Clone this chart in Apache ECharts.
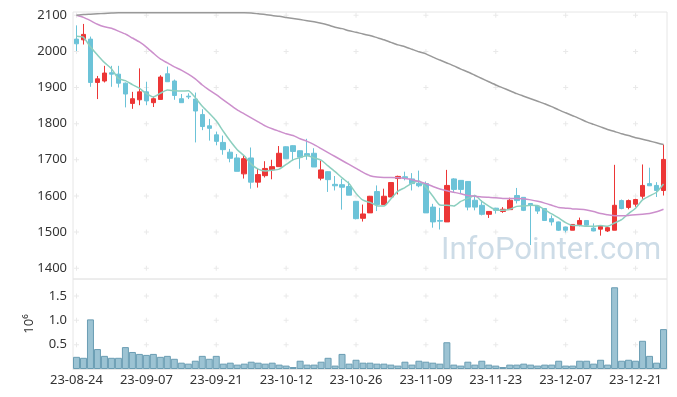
<!DOCTYPE html>
<html>
<head>
<meta charset="utf-8">
<script src="https://cdn.jsdelivr.net/npm/echarts@6/dist/echarts.min.js"></script>
<style>html,body{margin:0;padding:0;background:#fff}#c{width:677px;height:397px}</style>
</head>
<body>
<div id="c"></div>
<script>
const dates = ["23-08-24","23-08-25","23-08-28","23-08-29","23-08-30","23-08-31",
"23-09-01","23-09-04","23-09-05","23-09-06","23-09-07","23-09-08","23-09-11","23-09-12","23-09-13","23-09-14","23-09-15","23-09-18","23-09-19","23-09-20","23-09-21","23-09-22","23-09-25","23-09-26","23-09-27",
"23-10-04","23-10-05","23-10-06","23-10-10","23-10-11","23-10-12","23-10-13","23-10-16","23-10-17","23-10-18","23-10-19","23-10-20","23-10-23","23-10-24","23-10-25","23-10-26","23-10-27","23-10-30","23-10-31",
"23-11-01","23-11-02","23-11-03","23-11-06","23-11-07","23-11-08","23-11-09","23-11-10","23-11-13","23-11-14","23-11-15","23-11-16","23-11-17","23-11-20","23-11-21","23-11-22","23-11-23","23-11-24","23-11-27","23-11-28","23-11-29","23-11-30",
"23-12-01","23-12-04","23-12-05","23-12-06","23-12-07","23-12-08","23-12-11","23-12-12","23-12-13","23-12-14","23-12-15","23-12-18","23-12-19","23-12-20","23-12-21","23-12-22","23-12-26","23-12-27","23-12-28"];

const opens  = [2034,2032,2034,1914,1918,1941,1937,1912,1856,1866,1888,1858,1867,1938,1918,1869,1876,1868,1825,1794,1769,1748,1721,1705,1661,1705,1638,1656,1672,1681,1736,1739,1725,1717,1718,1649,1667,1632,1631,1626,1585,1538,1553,1612,1576,1597,1648,1653,1647,1635,1634,1569,1532,1528,1647,1643,1640,1588,1574,1549,1566,1557,1562,1601,1596,1579,1572,1565,1537,1528,1514,1505,1521,1532,1511,1508,1503,1505,1587,1568,1577,1599,1634,1629,1615];
const closes = [2021,2047,1914,1924,1940,1937,1912,1882,1869,1888,1863,1869,1929,1916,1878,1858,1874,1835,1792,1787,1751,1728,1704,1668,1703,1638,1659,1676,1681,1718,1703,1723,1707,1711,1680,1672,1645,1628,1624,1602,1537,1550,1599,1576,1599,1637,1654,1650,1634,1628,1553,1528,1530,1629,1618,1618,1569,1569,1549,1557,1560,1563,1588,1587,1560,1574,1558,1532,1528,1505,1505,1521,1532,1519,1503,1516,1512,1574,1565,1587,1590,1629,1628,1615,1701];
const lows   = [2001,2019,1902,1868,1914,1902,1900,1845,1841,1851,1851,1846,1867,1916,1866,1858,1868,1748,1782,1753,1740,1714,1693,1668,1648,1620,1623,1651,1646,1681,1703,1698,1675,1700,1680,1643,1611,1615,1562,1602,1535,1529,1553,1558,1576,1597,1604,1643,1615,1624,1553,1512,1507,1528,1611,1608,1560,1560,1546,1539,1551,1553,1562,1579,1558,1464,1550,1532,1518,1503,1499,1505,1516,1518,1502,1490,1500,1505,1563,1563,1570,1592,1628,1597,1601];
const highs  = [2072,2076,2041,1932,1960,1960,1960,1914,1888,1953,1916,1875,1934,1958,1922,1882,1884,1886,1840,1813,1778,1767,1730,1716,1712,1734,1675,1696,1700,1738,1737,1740,1726,1758,1732,1698,1668,1655,1647,1640,1586,1576,1600,1629,1620,1638,1656,1667,1663,1670,1640,1578,1567,1672,1649,1644,1641,1603,1588,1558,1567,1569,1595,1622,1597,1580,1575,1566,1546,1529,1515,1522,1540,1533,1524,1517,1516,1686,1590,1590,1592,1687,1678,1638,1742];

const ma5   = [2042,2039,2012,1990,1969,1952,1925,1919,1908,1898,1883,1874,1884,1893,1891,1890,1891,1872,1848,1829,1808,1779,1752,1728,1711,1688,1674,1669,1671,1674,1687,1700,1706,1712,1705,1699,1683,1667,1650,1634,1607,1588,1582,1573,1572,1592,1613,1623,1635,1641,1624,1599,1575,1574,1572,1585,1593,1601,1585,1572,1561,1560,1563,1571,1572,1574,1573,1562,1550,1539,1526,1518,1518,1516,1516,1518,1516,1525,1534,1551,1566,1589,1600,1610,1633];
const ma20  = [2100,2094,2085,2075,2068,2064,2056,2048,2037,2026,2012,1995,1979,1968,1957,1948,1937,1924,1907,1893,1880,1866,1852,1838,1827,1816,1805,1794,1786,1779,1772,1767,1758,1751,1742,1731,1720,1709,1698,1687,1676,1665,1656,1652,1651,1651,1650,1648,1645,1640,1634,1626,1619,1614,1610,1606,1601,1599,1597,1596,1595,1593,1593,1593,1592,1589,1585,1580,1574,1568,1566,1564,1563,1561,1557,1551,1548,1545,1545,1546,1548,1549,1551,1556,1563];
const ma120 = [2100,2102,2103,2104,2105,2106,2107,2107,2107,2107,2107,2107,2107,2107,2107,2107,2107,2107,2107,2107,2107,2107,2107,2107,2107,2106,2104,2102,2099,2097,2094,2091,2088,2085,2082,2078,2073,2067,2063,2057,2053,2048,2044,2038,2032,2025,2018,2013,2006,1999,1993,1984,1976,1968,1960,1951,1943,1934,1925,1916,1907,1899,1891,1883,1876,1869,1862,1855,1847,1838,1830,1822,1814,1805,1798,1791,1784,1778,1772,1767,1761,1757,1752,1747,1742];

const volumes = [0.25,0.23,1.02,0.41,0.27,0.23,0.23,0.45,0.35,0.31,
0.29,0.31,0.25,0.27,0.21,0.13,0.11,0.17,0.27,0.21,
0.27,0.11,0.13,0.09,0.11,0.15,0.13,0.11,0.13,0.09,
0.07,0.04,0.17,0.09,0.09,0.15,0.23,0.07,0.31,0.11,
0.19,0.13,0.13,0.11,0.11,0.09,0.07,0.15,0.09,0.17,
0.15,0.13,0.11,0.55,0.09,0.07,0.15,0.09,0.17,0.09,
0.07,0.04,0.09,0.09,0.11,0.09,0.07,0.09,0.09,0.17,
0.07,0.07,0.17,0.17,0.11,0.19,0.09,1.68,0.17,0.19,
0.17,0.58,0.27,0.13,0.82];

const priceTicks = [1400,1500,1600,1700,1800,1900,2000,2100];
const volTicks = [0.5,1.0,1.5];
const gridCols = [0,10,20,30,40,50,60,70,80];

const candleData = opens.map((o, i) => [o, closes[i], lows[i], highs[i]]);
const plusMain = [];
gridCols.forEach(c => priceTicks.forEach(v => plusMain.push([c, v])));
const plusVol = [];
gridCols.forEach(c => volTicks.forEach(v => plusVol.push([c, v])));

const PLUS = 'path://M2,0h1v2h2v1h-2v2h-1v-2h-2v-1h2z';
const chart = echarts.init(document.getElementById('c'), null, {renderer: 'canvas'});
const lab = {color: '#333', fontSize: 13, fontFamily: 'Noto Sans'};
chart.setOption({
  animation: false,
  backgroundColor: '#fff',
  grid: [
    {left: 73, right: 10, top: 12, height: 267, show: true, borderColor: '#e6e6e6', borderWidth: 1, backgroundColor: 'transparent'},
    {left: 73, right: 10, top: 279, height: 90, show: true, borderColor: '#e6e6e6', borderWidth: 1, backgroundColor: 'transparent'}
  ],
  xAxis: [
    {type: 'category', gridIndex: 0, data: dates, boundaryGap: true,
     axisLine: {show: false}, axisTick: {show: false}, axisLabel: {show: false}, splitLine: {show: false}},
    {type: 'category', gridIndex: 1, data: dates, boundaryGap: true,
     axisLine: {show: true, lineStyle: {color: '#e6e6e6'}}, axisTick: {show: false},
     axisLabel: Object.assign({interval: 9, margin: 5}, lab), splitLine: {show: false}}
  ],
  yAxis: [
    {type: 'value', gridIndex: 0, min: 1370, max: 2109, scale: true,
     axisLine: {show: false}, axisTick: {show: false}, splitLine: {show: false},
     axisLabel: Object.assign({customValues: priceTicks, margin: 6, formatter: v => String(v)}, lab)},
    {type: 'value', gridIndex: 1, min: 0, max: 1.85,
     axisLine: {show: false}, axisTick: {show: false}, splitLine: {show: false},
     axisLabel: Object.assign({customValues: volTicks, margin: 6, formatter: v => v.toFixed(1)}, lab),
     name: '10⁶', nameLocation: 'middle', nameRotate: 90, nameGap: 37,
     nameTextStyle: {color: '#333', fontSize: 13, fontFamily: 'Noto Sans'}}
  ],
  graphic: [
    {type: 'text', left: 441, top: 236, z: 0, silent: true,
     style: {text: 'InfoPointer.com', fill: '#cddce7', font: '31px Roboto'}}
  ],
  series: [
    {type: 'scatter', xAxisIndex: 0, yAxisIndex: 0, data: plusMain, symbol: PLUS, symbolSize: 5,
     itemStyle: {color: '#e4e4e4'}, silent: true, z: 1},
    {type: 'scatter', xAxisIndex: 1, yAxisIndex: 1, data: plusVol, symbol: PLUS, symbolSize: 5,
     itemStyle: {color: '#e4e4e4'}, silent: true, z: 1},
    {type: 'candlestick', xAxisIndex: 0, yAxisIndex: 0, data: candleData, barWidth: 5, z: 2,
     itemStyle: {color: '#ec3636', color0: '#6cc3d8', borderColor: '#ec3636', borderColor0: '#6cc3d8', borderWidth: 1}},
    {type: 'line', xAxisIndex: 0, yAxisIndex: 0, data: ma5, symbol: 'none', smooth: 0.2, z: 3,
     lineStyle: {color: '#8ccfbf', width: 1.5}},
    {type: 'line', xAxisIndex: 0, yAxisIndex: 0, data: ma20, symbol: 'none', smooth: 0.2, z: 3,
     lineStyle: {color: '#cc8fcc', width: 1.5}},
    {type: 'line', xAxisIndex: 0, yAxisIndex: 0, data: ma120, symbol: 'none', smooth: 0.2, z: 3,
     lineStyle: {color: '#999999', width: 1.5}},
    {type: 'bar', xAxisIndex: 1, yAxisIndex: 1, data: volumes, barCategoryGap: '0%', z: 2,
     itemStyle: {color: '#9cc3d3', borderColor: '#6a9db3', borderWidth: 1}}
  ]
});
</script>
</body>
</html>
